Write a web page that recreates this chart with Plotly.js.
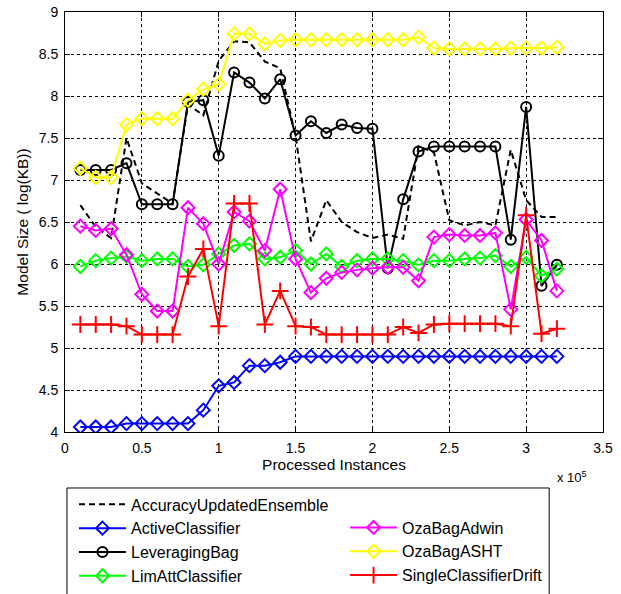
<!DOCTYPE html>
<html>
<head>
<meta charset="utf-8">
<script src="https://cdn.plot.ly/plotly-3.0.1.min.js"></script>
<style>html,body{margin:0;padding:0;background:#fff;}#chart{width:621px;height:594px;}</style>
</head>
<body>
<div id="chart"></div>
<script>
// Processed instances (x 10^5)
var instances = [0.1,0.2,0.3,0.4,0.5,0.6,0.7,0.8,0.9,1.0,1.1,1.2,1.3,1.4,1.5,1.6,1.7,1.8,1.9,2.0,2.1,2.2,2.3,2.4,2.5,2.6,2.7,2.8,2.9,3.0,3.1,3.2];

var accuracyUpdatedEnsemble = [6.70,6.44,6.31,7.50,6.96,6.84,6.72,7.90,7.77,8.42,8.65,8.64,8.41,8.33,7.52,6.27,6.76,6.50,6.38,6.31,6.35,6.30,7.40,7.33,6.52,6.46,6.50,6.46,7.36,6.76,6.56,6.56];
var activeClassifier = [4.06,4.06,4.06,4.10,4.10,4.10,4.10,4.10,4.26,4.55,4.59,4.79,4.79,4.83,4.90,4.90,4.90,4.90,4.90,4.90,4.90,4.90,4.90,4.90,4.90,4.90,4.90,4.90,4.90,4.90,4.90,4.90];
var leveragingBag = [7.12,7.12,7.12,7.20,6.71,6.71,6.71,7.93,7.95,7.29,8.28,8.16,7.97,8.20,7.53,7.70,7.56,7.66,7.62,7.61,5.95,6.77,7.34,7.40,7.40,7.40,7.40,7.40,6.29,7.87,5.74,5.99];
var limAttClassifier = [5.97,6.04,6.07,6.09,6.04,6.06,6.06,5.97,5.99,6.12,6.22,6.24,6.06,6.08,6.16,6.00,6.12,5.97,6.04,6.06,6.06,6.04,5.99,6.04,6.04,6.06,6.07,6.10,5.97,6.08,5.86,5.94];
var ozaBagAdwin = [6.45,6.40,6.42,6.11,5.64,5.44,5.44,6.67,6.48,6.00,6.62,6.51,6.16,6.89,6.06,5.66,5.83,5.90,5.93,5.95,5.96,5.96,5.80,6.32,6.35,6.34,6.34,6.37,5.46,6.53,6.28,5.68];
var ozaBagASHT = [7.14,7.03,7.03,7.66,7.73,7.73,7.73,7.95,8.08,8.14,8.74,8.74,8.62,8.66,8.67,8.67,8.67,8.67,8.67,8.67,8.67,8.67,8.70,8.57,8.56,8.56,8.56,8.56,8.57,8.57,8.57,8.58];
var singleClassifierDrift = [5.28,5.28,5.28,5.26,5.16,5.16,5.16,5.85,6.18,5.26,6.72,6.72,5.28,5.68,5.26,5.25,5.16,5.16,5.16,5.16,5.16,5.25,5.18,5.28,5.29,5.29,5.29,5.29,5.26,6.58,5.17,5.23];

var xTicks = [0,0.5,1,1.5,2,2.5,3,3.5];
var xTickLabels = ["0","0.5","1","1.5","2","2.5","3","3.5"];
var yTicks = [4,4.5,5,5.5,6,6.5,7,7.5,8,8.5,9];
var yTickLabels = ["4","4.5","5","5.5","6","6.5","7","7.5","8","8.5","9"];

var FONT = "Arial, 'Liberation Sans', sans-serif";

function series(name, y, color, symbol, legendId, dash) {
  var t = {
    x: instances, y: y, name: name, type: "scatter",
    mode: symbol ? "lines+markers" : "lines",
    line: {color: color, width: 2, dash: dash || "solid"},
    legend: legendId
  };
  if (symbol) {
    t.marker = {symbol: symbol, size: symbol === "cross-thin-open" ? 12 : 10,
                color: color, line: {color: color, width: 2}};
  }
  return t;
}

var data = [
  series("AccuracyUpdatedEnsemble", accuracyUpdatedEnsemble, "#000000", null, "legend", "6px,4px"),
  series("ActiveClassifier", activeClassifier, "#0000ff", "diamond-open", "legend"),
  series("LeveragingBag", leveragingBag, "#000000", "circle-open", "legend"),
  series("LimAttClassifier", limAttClassifier, "#00ff00", "diamond-open", "legend"),
  series("OzaBagAdwin", ozaBagAdwin, "#ff00ff", "diamond-open", "legend2"),
  series("OzaBagASHT", ozaBagASHT, "#ffff00", "diamond-open", "legend2"),
  series("SingleClassifierDrift", singleClassifierDrift, "#ff0000", "cross-thin-open", "legend2")
];

var axisCommon = {
  showline: true, linecolor: "#000", linewidth: 1, mirror: "ticks",
  ticks: "inside", ticklen: 5, tickcolor: "#000",
  showgrid: true, gridcolor: "#000", gridwidth: 1, griddash: "3px,3px",
  zeroline: false, tickfont: {family: FONT, size: 14, color: "#000"},
  tickmode: "array"
};

var layout = {
  width: 621, height: 594,
  margin: {l: 65, r: 18, t: 12, b: 162, autoexpand: false},
  paper_bgcolor: "#fff", plot_bgcolor: "#fff",
  font: {family: FONT, color: "#000"},
  xaxis: Object.assign({}, axisCommon, {
    range: [0, 3.5], tickvals: xTicks, ticktext: xTickLabels, ticklabelstandoff: 3,
    title: {text: "Processed Instances", font: {family: FONT, size: 15.5, color: "#000"}, standoff: 1}
  }),
  yaxis: Object.assign({}, axisCommon, {
    range: [4, 9], tickvals: yTicks, ticktext: yTickLabels, ticklabelstandoff: 3,
    title: {text: "Model Size ( log(KB))", font: {family: FONT, size: 15.5, color: "#000"}, standoff: 6}
  }),
  showlegend: true,
  legend: {
    x: 0.0167, y: -0.132, xanchor: "left", yanchor: "top",
    bgcolor: "rgba(0,0,0,0)", borderwidth: 0, itemwidth: 47,
    font: {family: FONT, size: 16, color: "#000"}, tracegroupgap: 0,
    itemclick: false
  },
  legend2: {
    x: 0.5206, y: -0.187, xanchor: "left", yanchor: "top",
    bgcolor: "rgba(0,0,0,0)", borderwidth: 0, itemwidth: 47,
    font: {family: FONT, size: 16, color: "#000"}, tracegroupgap: 0,
    itemclick: false
  },
  shapes: [{
    type: "rect", xref: "paper", yref: "paper",
    x0: 0.0037, x1: 0.9, y0: -0.39, y1: -0.1333,
    line: {color: "#000", width: 1}, fillcolor: "rgba(0,0,0,0)", layer: "below"
  }],
  annotations: [{
    xref: "paper", yref: "paper", x: 0.943, y: -0.107, xanchor: "center", yanchor: "middle",
    text: "x 10<sup>5</sup>", showarrow: false, font: {family: FONT, size: 13, color: "#000"}
  }]
};

Plotly.newPlot("chart", data, layout, {displayModeBar: false, staticPlot: true});
</script>
</body>
</html>
